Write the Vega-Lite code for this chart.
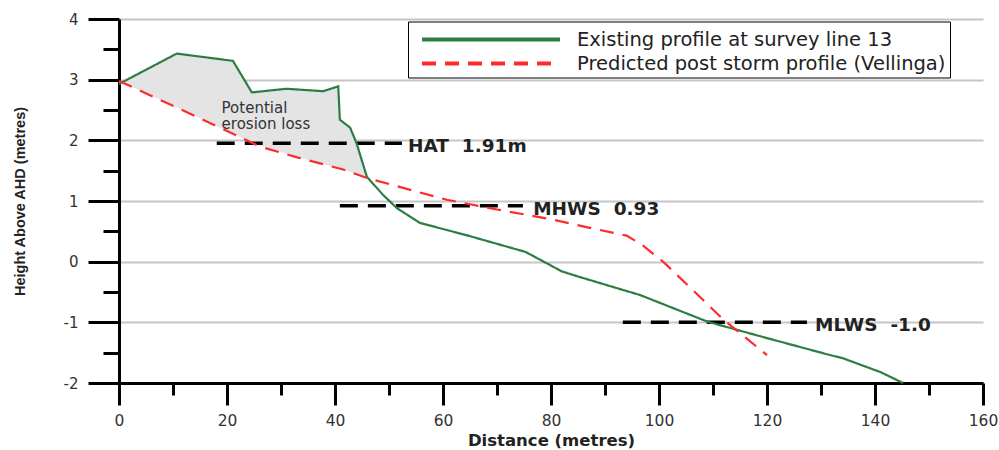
{
  "$schema": "https://vega.github.io/schema/vega-lite/v6.json",
  "width": 864,
  "height": 364,
  "autosize": {"type": "none"},
  "padding": {"left": 119, "top": 19, "right": 16, "bottom": 67},
  "background": "white",
  "config": {"view": {"stroke": null}, "font": "DejaVu Sans"},
  "datasets": {
    "profiles": [
      {"series": "Existing profile at survey line 13", "x": 0, "y": 2.93},
      {"series": "Existing profile at survey line 13", "x": 10.7, "y": 3.43},
      {"series": "Existing profile at survey line 13", "x": 21.1, "y": 3.31},
      {"series": "Existing profile at survey line 13", "x": 24.6, "y": 2.79},
      {"series": "Existing profile at survey line 13", "x": 31, "y": 2.85},
      {"series": "Existing profile at survey line 13", "x": 37.8, "y": 2.81},
      {"series": "Existing profile at survey line 13", "x": 40.6, "y": 2.89},
      {"series": "Existing profile at survey line 13", "x": 40.9, "y": 2.34},
      {"series": "Existing profile at survey line 13", "x": 42.8, "y": 2.21},
      {"series": "Existing profile at survey line 13", "x": 44, "y": 1.95},
      {"series": "Existing profile at survey line 13", "x": 45.9, "y": 1.4},
      {"series": "Existing profile at survey line 13", "x": 48.9, "y": 1.1},
      {"series": "Existing profile at survey line 13", "x": 51.5, "y": 0.88},
      {"series": "Existing profile at survey line 13", "x": 55.7, "y": 0.64},
      {"series": "Existing profile at survey line 13", "x": 65, "y": 0.42},
      {"series": "Existing profile at survey line 13", "x": 75.3, "y": 0.16},
      {"series": "Existing profile at survey line 13", "x": 82, "y": -0.16},
      {"series": "Existing profile at survey line 13", "x": 85.2, "y": -0.25},
      {"series": "Existing profile at survey line 13", "x": 96.5, "y": -0.55},
      {"series": "Existing profile at survey line 13", "x": 109, "y": -0.99},
      {"series": "Existing profile at survey line 13", "x": 120, "y": -1.26},
      {"series": "Existing profile at survey line 13", "x": 131.7, "y": -1.54},
      {"series": "Existing profile at survey line 13", "x": 134, "y": -1.59},
      {"series": "Existing profile at survey line 13", "x": 141, "y": -1.82},
      {"series": "Existing profile at survey line 13", "x": 145.2, "y": -2.0},
      {"series": "Predicted post storm profile (Vellinga)", "x": 0, "y": 2.98},
      {"series": "Predicted post storm profile (Vellinga)", "x": 10.7, "y": 2.54},
      {"series": "Predicted post storm profile (Vellinga)", "x": 21.1, "y": 2.11},
      {"series": "Predicted post storm profile (Vellinga)", "x": 26, "y": 1.9},
      {"series": "Predicted post storm profile (Vellinga)", "x": 33, "y": 1.72},
      {"series": "Predicted post storm profile (Vellinga)", "x": 41.5, "y": 1.52},
      {"series": "Predicted post storm profile (Vellinga)", "x": 45.9, "y": 1.38},
      {"series": "Predicted post storm profile (Vellinga)", "x": 60.7, "y": 1.02},
      {"series": "Predicted post storm profile (Vellinga)", "x": 70, "y": 0.86},
      {"series": "Predicted post storm profile (Vellinga)", "x": 80, "y": 0.7},
      {"series": "Predicted post storm profile (Vellinga)", "x": 87, "y": 0.56},
      {"series": "Predicted post storm profile (Vellinga)", "x": 94, "y": 0.43},
      {"series": "Predicted post storm profile (Vellinga)", "x": 97, "y": 0.27},
      {"series": "Predicted post storm profile (Vellinga)", "x": 101, "y": -0.02},
      {"series": "Predicted post storm profile (Vellinga)", "x": 112, "y": -0.96},
      {"series": "Predicted post storm profile (Vellinga)", "x": 120, "y": -1.54}
    ],
    "loss": [
      {"x": 0, "y": 2.93, "lo": 2.98},
      {"x": 10.7, "y": 3.43, "lo": 2.54},
      {"x": 21.1, "y": 3.31, "lo": 2.11},
      {"x": 24.6, "y": 2.79, "lo": 1.96},
      {"x": 31, "y": 2.85, "lo": 1.78},
      {"x": 37.8, "y": 2.81, "lo": 1.61},
      {"x": 40.6, "y": 2.89, "lo": 1.54},
      {"x": 40.9, "y": 2.34, "lo": 1.53},
      {"x": 42.8, "y": 2.21, "lo": 1.48},
      {"x": 44, "y": 1.95, "lo": 1.44},
      {"x": 45.9, "y": 1.39, "lo": 1.38}
    ],
    "tides": [
      {"level": "HAT", "x": 18.1, "xend": 52.4, "y": 1.95},
      {"level": "MHWS", "x": 40.9, "xend": 74.8, "y": 0.92},
      {"level": "MLWS", "x": 93.3, "xend": 127.4, "y": -1.0}
    ],
    "tideLabels": [
      {"x": 53.5, "y": 1.95, "label": "HAT\u00a0\u00a01.91m"},
      {"x": 76.7, "y": 0.92, "label": "MHWS\u00a0\u00a00.93"},
      {"x": 128.9, "y": -1.0, "label": "MLWS\u00a0\u00a0-1.0"}
    ],
    "notes": [
      {"x": 19, "y": 2.54, "label": "Potential"},
      {"x": 19, "y": 2.27, "label": "erosion loss"}
    ]
  },
  "encoding": {
    "x": {
      "field": "x", "type": "quantitative",
      "scale": {"domain": [0, 160], "nice": false, "zero": false},
      "axis": {
        "values": [0,10,20,30,40,50,60,70,80,90,100,110,120,130,140,150,160],
        "labelExpr": "datum.value % 20 === 0 ? '' + datum.value : ''",
        "tickSize": {"condition": {"test": "datum.value % 20 === 0", "value": 22}, "value": 12},
        "tickWidth": 3, "tickColor": "black",
        "domainColor": "black", "domainWidth": 3,
        "grid": false, "labelFlush": false,
        "labelFont": "DejaVu Sans", "labelFontSize": 15.5, "labelColor": "#333",
        "labelPadding": 8,
        "title": "Distance (metres)", "titleFont": "DejaVu Sans", "titleFontSize": 16.5,
        "titleFontWeight": "bold", "titleColor": "#222", "titlePadding": 4
      }
    },
    "y": {
      "field": "y", "type": "quantitative",
      "scale": {"domain": [-2, 4], "nice": false, "zero": false},
      "axis": {
        "values": [-2,-1.5,-1,-0.5,0,0.5,1,1.5,2,2.5,3,3.5,4],
        "labelExpr": "datum.value % 1 === 0 ? '' + datum.value : ''",
        "tickSize": {"condition": {"test": "datum.value % 1 === 0", "value": 31}, "value": 16},
        "tickWidth": 3, "tickColor": "black",
        "domainColor": "black", "domainWidth": 3,
        "grid": true, "gridColor": "#c6c6c6", "gridWidth": 2,
        "gridOpacity": {"condition": {"test": "datum.value % 1 === 0", "value": 1}, "value": 0},
        "labelFont": "DejaVu Sans", "labelFontSize": 15, "labelColor": "#333",
        "labelPadding": 10,
        "title": "Height Above AHD (metres)", "titleFont": "Liberation Sans",
        "titleFontSize": 14.5, "titleFontWeight": "bold", "titleColor": "#222", "titlePadding": 36
      }
    }
  },
  "layer": [
    {
      "data": {"name": "loss"},
      "mark": {"type": "area", "color": "#e4e4e4", "opacity": 1},
      "encoding": {"y2": {"field": "lo"}}
    },
    {
      "data": {"name": "tides"},
      "mark": {"type": "rule", "color": "black", "strokeWidth": 3.5, "strokeDash": [18, 10]},
      "encoding": {"x2": {"field": "xend"}}
    },
    {
      "data": {"name": "profiles"},
      "mark": {"type": "line", "strokeWidth": 2.2},
      "encoding": {
        "color": {
          "field": "series", "type": "nominal",
          "scale": {"domain": ["Existing profile at survey line 13", "Predicted post storm profile (Vellinga)"], "range": ["#2e7d43", "#ff2b2b"]},
          "legend": {
            "title": null, "orient": "none", "legendX": 289, "legendY": 2.5,
            "strokeColor": "black", "fillColor": "white",
            "padding": 4, "symbolType": "M-0.33,0H11.17", "symbolSize": 576,
            "symbolStrokeWidth": 4, "labelFont": "DejaVu Sans", "labelFontSize": 19.5,
            "labelColor": "#222", "labelLimit": 600, "rowPadding": 0, "labelOffset": 137
          }
        },
        "strokeDash": {
          "field": "series", "type": "nominal",
          "scale": {"domain": ["Existing profile at survey line 13", "Predicted post storm profile (Vellinga)"], "range": [[1, 0], [14, 9]]}
        }
      }
    },
    {
      "data": {"name": "tideLabels"},
      "mark": {"type": "text", "align": "left", "baseline": "middle", "dy": 3, "font": "DejaVu Sans", "fontSize": 18.5, "fontWeight": "bold", "color": "#222"},
      "encoding": {"text": {"field": "label"}}
    },
    {
      "data": {"name": "notes"},
      "mark": {"type": "text", "align": "left", "baseline": "middle", "font": "DejaVu Sans", "fontSize": 15, "color": "#333"},
      "encoding": {"text": {"field": "label"}}
    }
  ]
}
